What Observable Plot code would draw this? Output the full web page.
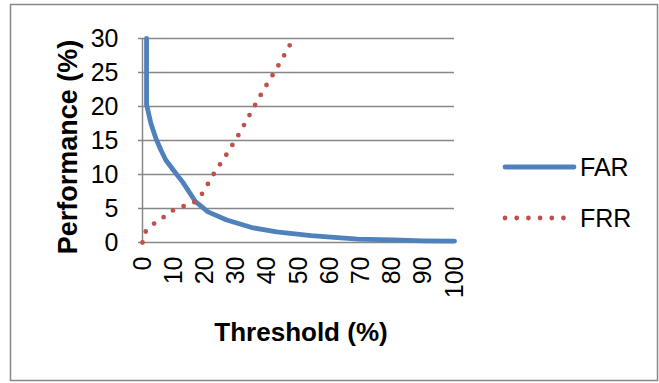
<!DOCTYPE html>
<html>
<head>
<meta charset="utf-8">
<script src="https://cdn.jsdelivr.net/npm/d3@7"></script>
<script src="https://cdn.jsdelivr.net/npm/@observablehq/plot@0.6"></script>
<style>
  html, body { margin: 0; padding: 0; background: #fff; }
  #chart { width: 659px; height: 383px; }
</style>
</head>
<body>
<div id="chart"></div>
<script>
// False acceptance rate (FAR) vs. threshold
const farThreshold = [1.3, 1.3, 2.7, 4.3, 5.9, 7.5, 10, 13, 17, 21, 27, 35, 43, 54, 69, 80, 90, 100];
const farValues    = [30, 20.3, 17.5, 15.3, 13.6, 12.1, 10.6, 8.8, 6.0, 4.5, 3.3, 2.2, 1.55, 1.0, 0.5, 0.4, 0.25, 0.2];

// False rejection rate (FRR) vs. threshold
const frrThreshold = [0, 1, 4, 7, 10, 13, 17, 19, 23, 27, 31, 34, 39, 43, 47, 48];
const frrValues    = [0, 1.6, 2.9, 3.8, 4.8, 5.3, 6.0, 7.1, 10.2, 13.0, 16.0, 18.5, 22.6, 25.6, 28.8, 30];

const xTicks = [0, 10, 20, 30, 40, 50, 60, 70, 80, 90, 100];
const yTicks = [0, 5, 10, 15, 20, 25, 30];

const seriesNames = ["FAR", "FRR"];
const seriesColors = ["#4F81BD", "#C0504D"];

const far = farThreshold.map((t, i) => ({threshold: t, value: farValues[i]}));
const frr = frrThreshold.map((t, i) => ({threshold: t, value: frrValues[i]}));

const gray = "#878787";
const font = "'Liberation Sans', Arial, sans-serif";

const chart = Plot.plot({
  width: 659,
  height: 383,
  marginLeft: 142,
  marginRight: 205,
  marginTop: 38,
  marginBottom: 141,
  style: {fontFamily: font, fontSize: "25px", color: "#000", background: "#fff", overflow: "visible"},
  x: {domain: [0, 100]},
  y: {domain: [0, 30]},
  marks: [
    Plot.gridY(yTicks, {stroke: gray, strokeOpacity: 1, strokeWidth: 1.5}),
    Plot.ruleX([0], {stroke: gray, strokeWidth: 1.5}),
    Plot.axisY(yTicks, {tickSize: 4, tickPadding: 20, stroke: gray, strokeWidth: 1.5, fontSize: 25, label: null}),
    Plot.axisX(xTicks, {tickSize: 0, tickPadding: 14, tickRotate: -90, fontSize: 25, label: null}),
    Plot.line(far, {x: "threshold", y: "value", stroke: seriesColors[0], strokeWidth: 4.8}),
    Plot.line(frr, {x: "threshold", y: "value", stroke: seriesColors[1], strokeWidth: 4.8,
      strokeDasharray: "0 11.5", strokeLinecap: "round"})
  ]
});

document.getElementById("chart").append(chart);

const svg = d3.select(chart);

// outer chart border
svg.append("rect")
  .attr("x", 10.5).attr("y", 4.5).attr("width", 647).attr("height", 376)
  .attr("fill", "none").attr("stroke", gray).attr("stroke-width", 1.5);

// axis titles
svg.append("text")
  .attr("x", 301).attr("y", 341)
  .attr("text-anchor", "middle")
  .attr("font-family", font).attr("font-size", 26).attr("font-weight", "bold")
  .text("Threshold (%)");

svg.append("text")
  .attr("transform", "translate(77,147) rotate(-90)")
  .attr("text-anchor", "middle")
  .attr("font-family", font).attr("font-size", 27).attr("font-weight", "bold")
  .text("Performance (%)");

// legend
const legend = svg.append("g").attr("text-anchor", "start");
const legendY = [167, 218];
seriesNames.forEach((name, i) => {
  const row = legend.append("g");
  row.append("line")
    .attr("x1", 505).attr("x2", i === 0 ? 574 : 564)
    .attr("y1", legendY[i]).attr("y2", legendY[i])
    .attr("stroke", seriesColors[i]).attr("stroke-width", 4.8)
    .attr("stroke-linecap", "round")
    .attr("stroke-dasharray", i === 0 ? null : "0 11.7");
  row.append("text")
    .attr("x", 580).attr("y", legendY[i] + 9)
    .attr("text-anchor", "start")
    .attr("font-family", font).attr("font-size", 25)
    .text(name);
});
</script>
</body>
</html>
